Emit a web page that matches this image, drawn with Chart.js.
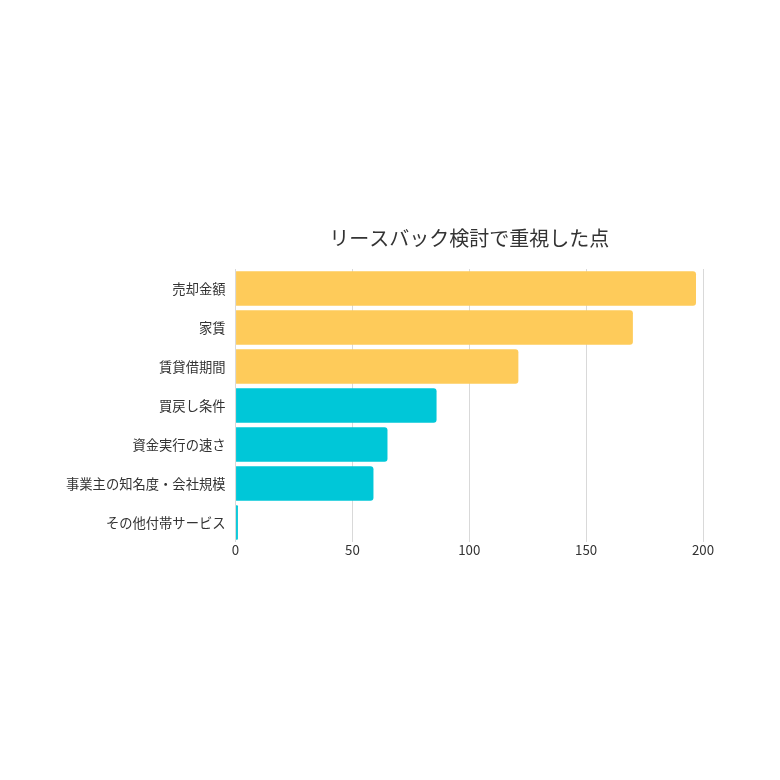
<!DOCTYPE html>
<html>
<head>
<meta charset="utf-8">
<script src="https://cdn.jsdelivr.net/npm/chart.js@4"></script>
<style>
html,body{margin:0;padding:0;background:#fff;}
#wrap{width:780px;height:780px;}
</style>
</head>
<body>
<div id="wrap"><canvas id="c" width="780" height="780"></canvas></div>
<script>
const categories = ["売却金額","家賃","賃貸借期間","買戻し条件","資金実行の速さ","事業主の知名度・会社規模","その他付帯サービス"];
const values = [197,170,121,86,65,59,1];
const xTicks = [0,50,100,150,200];
const titleText = "リースバック検討で重視した点";
const barColors = ["#FECB5A","#FECB5A","#FECB5A","#00C7D8","#00C7D8","#00C7D8","#00C7D8"];

const font = "'Noto Sans CJK JP','Noto Sans',sans-serif";
new Chart(document.getElementById('c'), {
  type: 'bar',
  data: {
    labels: categories,
    datasets: [{
      data: values,
      backgroundColor: barColors,
      borderRadius: 3,
      borderSkipped: 'start',
      barPercentage: 0.88,
      categoryPercentage: 1.0
    }]
  },
  options: {
    indexAxis: 'y',
    responsive: false,
    animation: false,
    devicePixelRatio: 1,
    layout: { padding: { top: 216, left: 56, right: 77, bottom: 222 } },
    plugins: {
      legend: { display: false },
      tooltip: { enabled: false },
      title: {
        display: true,
        fullSize: false,
        text: titleText,
        color: '#333',
        font: { family: font, size: 20, weight: 'normal' },
        padding: { top: 10, bottom: 19 }
      }
    },
    scales: {
      x: {
        min: 0, max: 200,
        afterBuildTicks: (axis) => { axis.ticks = xTicks.map(v => ({ value: v })); },
        grid: { color: '#d9d9d9', drawTicks: false, lineWidth: 1 },
        border: { display: false },
        ticks: { color: '#333', padding: 0, font: { family: font, size: 13.3 } }
      },
      y: {
        grid: { display: false, drawTicks: false },
        border: { display: false },
        ticks: { color: '#333', padding: 10, font: { family: font, size: 13.3 } }
      }
    }
  }
});
</script>
</body>
</html>
